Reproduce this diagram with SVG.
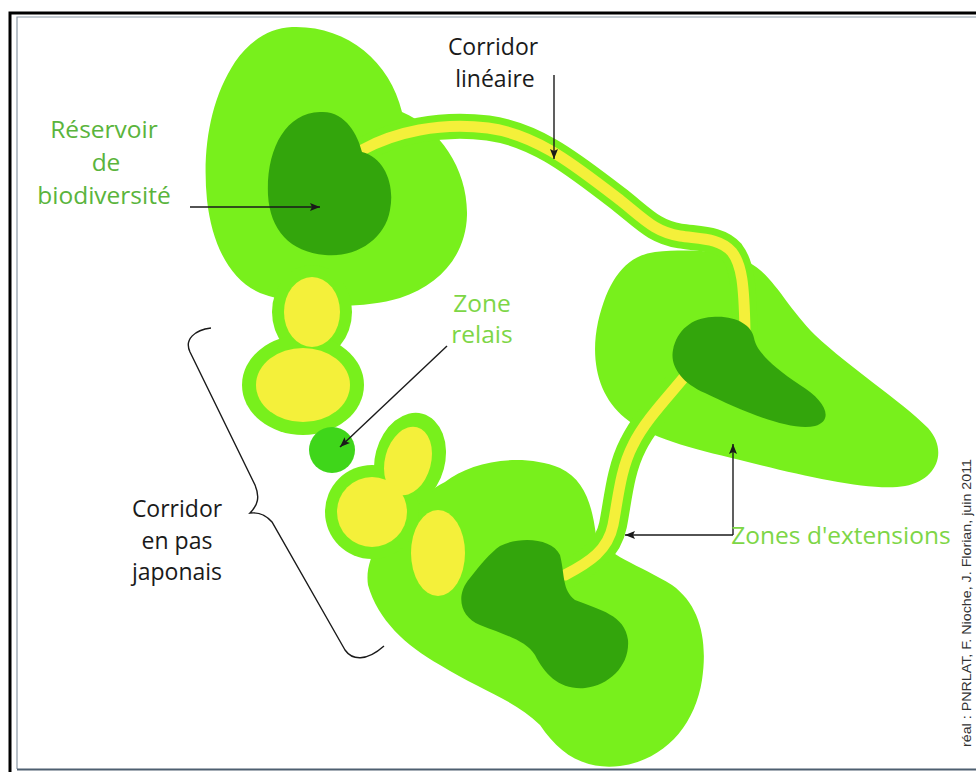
<svg xmlns="http://www.w3.org/2000/svg" width="976" height="774" viewBox="0 0 976 774">
<defs>
<style>
.lg{fill:#78f01c}
.dg{fill:#33a50c}
.ye{fill:#f4f03a}
.lbl{font-family:"Open Sans","DejaVu Sans",sans-serif;text-anchor:middle}
.blk{fill:#1a1a1a;font-size:23px}
.gr1{fill:#5ab43c;font-size:24.5px}
.gr2{fill:#7dd646;font-size:24.5px}
.arr{fill:none;stroke:#1a1a1a;stroke-width:1.4}
</style>
<marker id="ah" viewBox="0 0 10 8" refX="10" refY="4" markerWidth="11" markerHeight="8" markerUnits="userSpaceOnUse" orient="auto">
<path d="M0,0 L10,4 L0,8 L2,4 Z" fill="#1a1a1a"/>
</marker>
</defs>
<rect x="0" y="0" width="976" height="774" fill="#ffffff"/>
<g id="frame" fill="none">
<path d="M10,772 L10,13 L976,13" stroke="#000" stroke-width="3"/>
<path d="M17,769 L17,17 L976,17" stroke="#8a98a6" stroke-width="1.2"/>
<path d="M17,769.5 L976,769.5" stroke="#4e5f70" stroke-width="2"/>
</g>
<g id="reservoir-nw">
<path class="lg" d="M292,27 C345,25 390,60 402,112 C440,128 468,170 467,215 C466,255 440,285 400,298 C360,310 300,308 260,293 C230,280 212,245 207,200 C202,150 210,100 235,62 C250,40 270,28 292,27 Z"/>
</g>
<g id="reservoir-e">
<path class="lg" d="M655,252 C700,248 740,252 760,270 C780,288 790,310 815,335 C850,368 900,400 928,428 C948,450 938,480 905,486 C870,492 800,475 740,460 C690,448 650,438 625,418 C598,396 590,360 598,322 C608,280 625,256 655,252 Z"/>
</g>
<g id="reservoir-s">
<path class="lg" d="M445,482 C470,462 520,452 560,468 C585,480 592,505 596,535 C605,555 640,565 672,585 C700,605 708,640 702,680 C695,725 665,760 620,766 C585,770 560,755 540,725 C515,700 480,690 440,665 C405,645 378,620 368,585 C362,545 410,500 445,482 Z"/>
</g>
<g id="stepping-stones">
<ellipse class="lg" cx="312" cy="312" rx="40" ry="47"/>
<ellipse class="lg" cx="303" cy="385" rx="61" ry="50"/>
<ellipse class="lg" cx="410" cy="460" rx="35" ry="48" transform="rotate(15 410 460)"/>
<ellipse class="lg" cx="372" cy="512" rx="47" ry="47"/>
<ellipse class="ye" cx="312" cy="312" rx="28" ry="35"/>
<ellipse class="ye" cx="303" cy="385" rx="47" ry="37"/>
<ellipse class="ye" cx="408" cy="461" rx="23" ry="35" transform="rotate(15 408 461)"/>
<ellipse class="ye" cx="372" cy="512" rx="35" ry="35"/>
<ellipse class="ye" cx="438" cy="553" rx="27" ry="43"/>
</g>
<g id="corridor-lineaire" fill="none" stroke-linecap="round">
<path d="M362,150 C395,132 440,122 488,128 C540,135 580,170 620,200 C645,220 655,232 680,236 C700,239 720,238 732,252 C742,265 744,285 745,330" stroke="#78f01c" stroke-width="25"/>
<path d="M690,370 C670,395 645,420 633,445 C620,470 618,500 613,525 C608,550 590,562 565,575" stroke="#78f01c" stroke-width="28"/>
<path d="M362,150 C395,132 440,122 488,128 C540,135 580,170 620,200 C645,220 655,232 680,236 C700,239 720,238 732,252 C742,265 744,285 745,330" stroke="#f4f03a" stroke-width="11"/>
<path d="M690,370 C670,395 645,420 633,445 C620,470 618,500 613,525 C608,550 590,562 565,575" stroke="#f4f03a" stroke-width="11"/>
</g>
<g id="cores">
<path class="dg" d="M320,112 C345,110 358,135 362,152 C385,158 395,185 390,210 C385,240 355,258 325,255 C290,252 270,230 268,195 C266,150 285,113 320,112 Z"/>
<path class="dg" d="M712,317 C735,315 752,325 754,338 C756,350 770,365 800,385 C825,400 835,420 815,426 C790,432 740,410 705,393 C680,382 670,365 673,350 C677,330 692,318 712,317 Z"/>
<path class="dg" d="M500,546 C520,536 552,538 560,555 C565,575 562,590 575,600 C600,610 625,615 628,640 C630,665 610,685 585,688 C560,690 545,675 535,655 C525,640 505,635 480,625 C460,617 455,595 470,578 C480,565 490,553 500,546 Z"/>
</g>
<g id="relay">
<circle cx="332" cy="450" r="23" fill="#3fd61a"/>
</g>
<g id="connectors">
<path class="arr" d="M190,207 L320,207" marker-end="url(#ah)"/>
<path class="arr" d="M554,75 L554,159" marker-end="url(#ah)"/>
<path class="arr" d="M447,346 L340,447" marker-end="url(#ah)"/>
<path class="arr" d="M733,535 L625,535" marker-end="url(#ah)"/>
<path class="arr" d="M733,535 L733,444" marker-end="url(#ah)"/>
<path class="arr" d="M211,328 C195,330 184,339 190,352 L255,485 C260,497 258,505 250,513 C260,512 266,515 272,522 L345,650 C352,660 366,662 384,646"/>
</g>
<g id="labels" class="lbl">
<text class="blk" x="493" y="55">Corridor</text>
<text class="blk" x="495" y="87">linéaire</text>
<text class="gr1" x="104" y="138">Réservoir</text>
<text class="gr1" x="106" y="171">de</text>
<text class="gr1" x="104" y="204">biodiversité</text>
<text class="gr2" x="482" y="312">Zone</text>
<text class="gr2" x="482" y="343">relais</text>
<text class="gr2" x="841" y="544">Zones d'extensions</text>
<text class="blk" x="177" y="517">Corridor</text>
<text class="blk" x="177" y="549">en pas</text>
<text class="blk" x="177" y="580">japonais</text>
</g>
<text transform="translate(971,747) rotate(-90)" font-family="'Liberation Sans',Arial,sans-serif" font-size="13.5" fill="#333" textLength="288" lengthAdjust="spacingAndGlyphs">réal : PNRLAT, F. Nioche, J. Florian, juin 2011</text>
</svg>
